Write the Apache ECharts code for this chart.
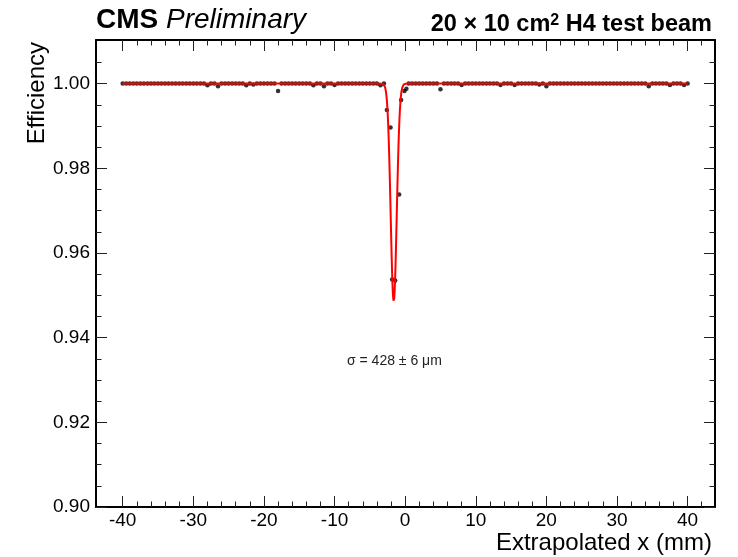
<!DOCTYPE html>
<html>
<head>
<meta charset="utf-8">
<script src="https://cdn.jsdelivr.net/npm/echarts@6/dist/echarts.min.js"></script>
<style>
html,body{margin:0;padding:0;background:#fff;}
#chart{width:738px;height:557px;}
</style>
</head>
<body>
<div id="chart"></div>
<script>
// ---- data ----
const xPoints = [
  -40,-39.5,-39,-38.5,-38,-37.5,-37,-36.5,-36,-35.5,
  -35,-34.5,-34,-33.5,-33,-32.5,-32,-31.5,-31,-30.5,
  -30,-29.5,-29,-28.5,-28,-27.5,-27,-26.5,-26,-25.5,
  -25,-24.5,-24,-23.5,-23,-22.5,-22,-21.5,-21,-20.5,
  -20,-19.5,-19,-18.5,-18,-17.5,-17,-16.5,-16,-15.5,
  -15,-14.5,-14,-13.5,-13,-12.5,-12,-11.5,-11,-10.5,
  -10,-9.5,-9,-8.5,-8,-7.5,-7,-6.5,-6,-5.5,
  -5,-4.5,-4,-3.5,-3,-2.59,-2.07,-1.84,-1.41,-0.85,
  -0.57,-0.1,0.18,0.5,1,1.5,2,2.5,3,3.5,
  4,4.5,5,5.5,6,6.5,7,7.5,8,8.5,
  9,9.5,10,10.5,11,11.5,12,12.5,13,13.5,
  14,14.5,15,15.5,16,16.5,17,17.5,18,18.5,
  19,19.5,20,20.5,21,21.5,22,22.5,23,23.5,
  24,24.5,25,25.5,26,26.5,27,27.5,28,28.5,
  29,29.5,30,30.5,31,31.5,32,32.5,33,33.5,
  34,34.5,35,35.5,36,36.5,37,37.5,38,38.5,
  39,39.5,40
];
const efficiency = [
  1,1,1,1,1,1,1,1,1,1,
  1,1,1,1,1,1,1,1,1,1,
  1,1,1,1,0.9996,1,1,0.9994,1,1,
  1,1,1,1,1,0.9996,1,0.9998,1,1,
  1,1,1,1,0.99825,1,1,1,1,1,
  1,1,1,1,0.9996,1,1,0.9994,1,1,
  0.9997,1,1,1,1,1,1,1,1,1,
  1,1,1,0.9996,1,0.99374,0.98963,0.95374,0.9535,0.97381,
  0.99611,0.99825,0.99881,1,1,1,1,1,1,1,
  1,1,0.99865,1,1,1,1,1,0.9997,1,
  1,1,1,1,1,1,1,1,1,0.9997,
  1,1,1,0.9997,1,1,1,1,1,1,
  0.9998,1,0.9994,1,1,1,1,1,1,1,
  1,1,1,1,1,1,1,1,1,1,
  1,1,1,1,1,1,1,1,1,1,
  1,0.9994,1,1,1,1,1,0.9997,1,1,
  1,0.9997,1
];
// Gaussian fit parameters (sigma = 428 um)
const fitBaseline = 1.0;
const fitDepth = 0.0514;
const fitMean = -1.62;
const fitSigma = 0.428;
const fitRange = [-40, 40];

const xMajorTicks = [-40,-30,-20,-10,0,10,20,30,40];
const xMinorTicks = [-38,-36,-34,-32,-28,-26,-24,-22,-18,-16,-14,-12,-8,-6,-4,-2,
                     2,4,6,8,12,14,16,18,22,24,26,28,32,34,36,38,42];
const yMajorTicks = [0.90,0.92,0.94,0.96,0.98,1.00];
const yMinorTicks = [0.905,0.91,0.915,0.925,0.93,0.935,0.945,0.95,0.955,
                     0.965,0.97,0.975,0.985,0.99,0.995,1.005];
const xRange = [-43.78, 43.88];
const yRange = [0.90, 1.0103];

// ---- build ----
const scatterData = xPoints.map((x, i) => [x, efficiency[i]]);
const fitData = [];
for (let i = 0; i <= 1600; i++) {
  const x = fitRange[0] + i * (fitRange[1] - fitRange[0]) / 1600;
  const d = (x - fitMean) / fitSigma;
  fitData.push([x, fitBaseline - fitDepth * Math.exp(-0.5 * d * d)]);
}

const FONT = '"Liberation Sans", Arial, Helvetica, sans-serif';
const lineStyle = {color: '#000', width: 2};
const tickStyle = {color: '#222', width: 1};

function xAx(pos, ticks, len, showLine, labels) {
  return {
    type: 'value', position: pos, min: xRange[0], max: xRange[1],
    axisLine: {show: showLine, onZero: false, lineStyle: lineStyle},
    axisTick: {show: true, inside: true, length: len, customValues: ticks, lineStyle: tickStyle},
    axisLabel: labels ? {show: true, customValues: xMajorTicks, fontSize: 19, color: '#000',
      fontFamily: FONT, margin: 4, formatter: v => String(v)} : {show: false},
    splitLine: {show: false}
  };
}
function yAx(pos, ticks, len, showLine, labels) {
  return {
    type: 'value', position: pos, min: yRange[0], max: yRange[1],
    axisLine: {show: showLine, onZero: false, lineStyle: lineStyle},
    axisTick: {show: true, inside: true, length: len, customValues: ticks, lineStyle: tickStyle},
    axisLabel: labels ? {show: true, customValues: yMajorTicks, fontSize: 19, color: '#000',
      fontFamily: FONT, margin: 6, formatter: v => v.toFixed(2)} : {show: false},
    splitLine: {show: false}
  };
}

const chart = echarts.init(document.getElementById('chart'), null, {renderer: 'canvas'});
chart.setOption({
  animation: false,
  backgroundColor: '#fff',
  textStyle: {fontFamily: FONT},
  grid: {left: 96, right: 23, top: 40, bottom: 50, containLabel: false},
  xAxis: [
    xAx('bottom', xMajorTicks, 11, true, true),
    xAx('bottom', xMinorTicks, 5.5, false, false),
    xAx('top', xMajorTicks, 11, true, false),
    xAx('top', xMinorTicks, 5.5, false, false)
  ],
  yAxis: [
    yAx('left', yMajorTicks, 11, true, true),
    yAx('left', yMinorTicks, 5.5, false, false),
    yAx('right', yMajorTicks, 11, true, false),
    yAx('right', yMinorTicks, 5.5, false, false)
  ],
  series: [
    {
      type: 'scatter', xAxisIndex: 0, yAxisIndex: 0,
      data: scatterData, symbol: 'circle', symbolSize: 4.5,
      itemStyle: {color: '#000'}, z: 2
    },
    {
      type: 'line', xAxisIndex: 0, yAxisIndex: 0,
      data: fitData, showSymbol: false, smooth: false,
      lineStyle: {color: '#ff0000', width: 2}, z: 3
    }
  ],
  graphic: [
    {type: 'text', x: 96, y: 20, z: 10, style: {
      text: '{b|CMS}{sp| }{i|Preliminary}', align: 'left', verticalAlign: 'middle',
      rich: {
        b: {fontFamily: FONT, fontSize: 28, fontWeight: 'bold', fill: '#000'},
        sp: {fontFamily: FONT, fontSize: 28, fill: '#000'},
        i: {fontFamily: FONT, fontSize: 28, fontStyle: 'italic', fill: '#000'}
      }}},
    {type: 'text', x: 712, y: 25, z: 10, style: {
      text: '{b|20 × 10 cm}{s|2}{b| H4 test beam}', align: 'right', verticalAlign: 'middle',
      rich: {
        b: {fontFamily: FONT, fontSize: 23.5, fontWeight: 'bold', fill: '#000'},
        s: {fontFamily: FONT, fontSize: 16, fontWeight: 'bold', fill: '#000', verticalAlign: 'top'}
      }}},
    {type: 'text', x: 712, y: 543, z: 10, style: {
      text: 'Extrapolated x (mm)', align: 'right', verticalAlign: 'middle',
      font: '24px ' + FONT, fill: '#000'}},
    {type: 'text', x: 37, y: 42, rotation: Math.PI / 2, z: 10, style: {
      text: 'Efficiency', align: 'right', verticalAlign: 'middle',
      font: '24px ' + FONT, fill: '#000'}},
    {type: 'text', x: 347, y: 361, z: 10, style: {
      text: 'σ = 428 ± 6 μm', align: 'left', verticalAlign: 'middle',
      font: '14px ' + FONT, fill: '#222'}}
  ]
});
</script>
</body>
</html>
